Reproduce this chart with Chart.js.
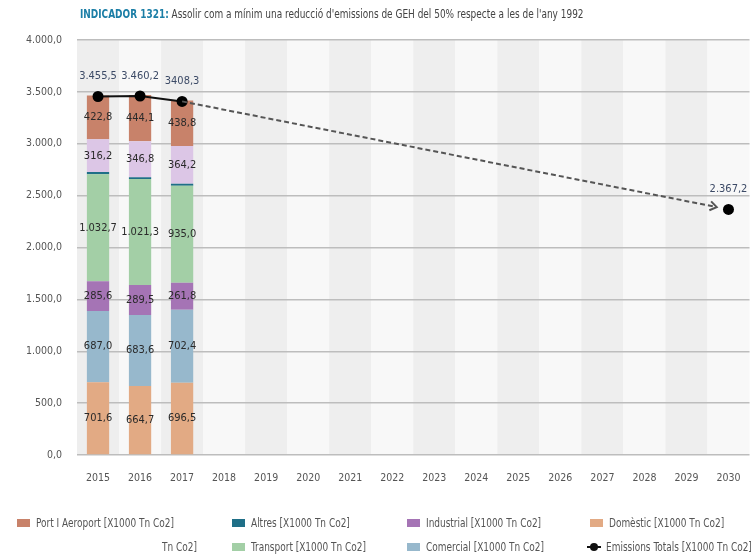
<!DOCTYPE html>
<html>
<head>
<meta charset="utf-8">
<script src="https://cdn.jsdelivr.net/npm/chart.js@4.4.1/dist/chart.umd.min.js"></script>
<style>
  body { margin: 0; background: #fff; }
  #wrap { position: relative; width: 755px; height: 555px; font-family: "Liberation Sans Narrow", "DejaVu Sans Condensed", "Liberation Sans", sans-serif; }
  canvas { position: absolute; left: 0; top: 0; }
  #title { position: absolute; left: 80px; top: 7px; font-size: 12px; color: #444; white-space: nowrap; transform: scaleX(0.83); transform-origin: 0 0; }
  #title b { color: #1b7ea6; }
  .lg { position: absolute; font-size: 12px; color: #555; white-space: nowrap; line-height: 14px; transform: scaleX(0.83); transform-origin: 0 0; }
  .sw { position: absolute; width: 13px; height: 8px; }
  .mk { position: absolute; width: 14px; height: 8px; }
  .mk::before { content: ""; position: absolute; left: 0; right: 0; top: 3px; height: 2px; background: #111; }
  .mk::after { content: ""; position: absolute; left: 3px; top: 0; width: 8px; height: 8px; border-radius: 50%; background: #111; }
</style>
</head>
<body>
<div id="wrap">
  <canvas id="chart" width="755" height="555"></canvas>
  <div id="title"><b>INDICADOR 1321:</b> Assolir com a mínim una reducció d'emissions de GEH del 50% respecte a les de l'any 1992</div>
  <div id="legend"></div>
</div>
<script>
const years = ["2015", "2016", "2017", "2018", "2019", "2020", "2021", "2022", "2023", "2024", "2025", "2026", "2027", "2028", "2029", "2030"];

// stacked series, bottom to top [X1000 Tn Co2]
const domestic = [701.6, 664.7, 696.5];
const comercial = [687.0, 683.6, 702.4];
const industrial = [285.6, 289.5, 261.8];
const transport = [1032.7, 1021.3, 935.0];
const altres = [20.0, 19.0, 18.0];
const lavender = [316.2, 346.8, 364.2];
const portAeroport = [422.8, 444.1, 438.8];

// totals, with the 2030 target
const totals = [3455.5, 3460.2, 3408.3, null, null, null, null, null, null, null, null, null, null, null, null, 2367.2];
const totalLabels = ["3.455,5", "3.460,2", "3408,3", "", "", "", "", "", "", "", "", "", "", "", "", "2.367,2"];

const yTicks = [0, 500, 1000, 1500, 2000, 2500, 3000, 3500, 4000];

const FONT = "'Liberation Sans Narrow', 'DejaVu Sans Condensed', 'Liberation Sans', sans-serif";

function fmt(v) {
    const parts = v.toFixed(1).split(".");
    return parts[0].replace(/\B(?=(\d{3})+(?!\d))/g, ".") + "," + parts[1];
}

const barSeries = [
    { label: "Domèstic [X1000 Tn Co2]", data: domestic, color: "#e2aa84", showValue: true },
    { label: "Comercial [X1000 Tn Co2]", data: comercial, color: "#97b8cc", showValue: true },
    { label: "Industrial [X1000 Tn Co2]", data: industrial, color: "#a574b5", showValue: true },
    { label: "Transport [X1000 Tn Co2]", data: transport, color: "#a3cfa6", showValue: true },
    { label: "Altres [X1000 Tn Co2]", data: altres, color: "#1f6f87", showValue: false },
    { label: "[X1000 Tn Co2]", data: lavender, color: "#dcc6e6", showValue: true },
    { label: "Port I Aeroport [X1000 Tn Co2]", data: portAeroport, color: "#c8826a", showValue: true },
];

const datasets = barSeries.map(s => ({
    type: "bar",
    label: s.label,
    data: s.data,
    backgroundColor: s.color,
    stack: "bars",
    order: 1,
    showValue: s.showValue,
    categoryPercentage: 1,
    barPercentage: 0.53,
}));

datasets.push({
    type: "line",
    label: "Emissions Totals [X1000 Tn Co2]",
    data: totals,
    stack: "line",
    order: 0,
    spanGaps: true,
    borderColor: "#111",
    borderWidth: 2,
    pointRadius: 5.5,
    pointBackgroundColor: "#000",
    pointBorderWidth: 0,
    segment: {
        // the projection part is drawn by the arrow plugin
        borderColor: ctx => ctx.p0DataIndex >= 2 ? "rgba(0,0,0,0)" : "#111",
    },
});

// alternating column shading
const bandPlugin = {
    id: "bands",
    beforeDraw(chart) {
        const { ctx, chartArea, scales } = chart;
        const x = scales.x;
        const step = (chartArea.right - chartArea.left) / years.length;
        ctx.save();
        years.forEach((_, i) => {
            const cx = x.getPixelForValue(i);
            ctx.fillStyle = i % 2 === 0 ? "#eeeeee" : "#f8f8f8";
            ctx.fillRect(cx - step / 2, chartArea.top, step, chartArea.bottom - chartArea.top);
        });
        ctx.restore();
    },
};

// dashed projection with arrow head
const arrowPlugin = {
    id: "arrow",
    afterDatasetsDraw(chart) {
        const idx = chart.data.datasets.length - 1;
        const pts = chart.getDatasetMeta(idx).data;
        const a = pts[2], b = pts[years.length - 1];
        const dx = b.x - a.x, dy = b.y - a.y;
        const len = Math.hypot(dx, dy);
        const ux = dx / len, uy = dy / len;
        const tx = b.x - ux * 12, ty = b.y - uy * 12;
        const ctx = chart.ctx;
        ctx.save();
        ctx.strokeStyle = "#555";
        ctx.lineWidth = 2;
        ctx.setLineDash([5, 3]);
        ctx.beginPath();
        ctx.moveTo(a.x, a.y);
        ctx.lineTo(tx, ty);
        ctx.stroke();
        ctx.setLineDash([]);
        const ang = Math.atan2(uy, ux);
        ctx.beginPath();
        ctx.moveTo(tx - 8 * Math.cos(ang - 0.6), ty - 8 * Math.sin(ang - 0.6));
        ctx.lineTo(tx, ty);
        ctx.lineTo(tx - 8 * Math.cos(ang + 0.6), ty - 8 * Math.sin(ang + 0.6));
        ctx.stroke();
        ctx.restore();
    },
};

// value labels
const labelPlugin = {
    id: "valueLabels",
    afterDraw(chart) {
        const ctx = chart.ctx;
        ctx.save();
        ctx.textAlign = "center";
        ctx.textBaseline = "middle";
        ctx.font = "11px " + FONT;
        chart.data.datasets.forEach((ds, di) => {
            const meta = chart.getDatasetMeta(di);
            if (ds.type === "bar") {
                if (!ds.showValue) return;
                ctx.fillStyle = "#2a2a2a";
                meta.data.forEach((el, i) => {
                    if (ds.data[i] == null) return;
                    ctx.fillText(fmt(ds.data[i]), el.x, (el.y + el.base) / 2);
                });
            } else {
                ctx.fillStyle = "#3c4a66";
                meta.data.forEach((el, i) => {
                    if (!totalLabels[i]) return;
                    ctx.fillText(totalLabels[i], el.x, el.y - 20);
                });
            }
        });
        ctx.restore();
    },
};

new Chart(document.getElementById("chart"), {
    data: { labels: years, datasets: datasets },
    plugins: [bandPlugin, arrowPlugin, labelPlugin],
    options: {
        responsive: false,
        animation: false,
        layout: { padding: { top: 40, right: 0, left: 0, bottom: 0 } },
        plugins: {
            legend: { display: false },
            tooltip: { enabled: false },
        },
        scales: {
            x: {
                stacked: true,
                grid: { display: false },
                border: { display: false },
                ticks: { color: "#555", font: { family: FONT, size: 10.5 }, padding: 9 },
                afterFit: s => {
                    s.height = 100;
                    s.paddingLeft = 0;
                    s.paddingRight = 0;
                },
            },
            y: {
                stacked: true,
                min: 0,
                max: 4000,
                afterBuildTicks: s => { s.ticks = yTicks.map(v => ({ value: v })); },
                grid: { color: "#bdbdbd", lineWidth: 1.5, drawTicks: false },
                border: { display: false },
                ticks: {
                    color: "#555",
                    font: { family: FONT, size: 10.5 },
                    padding: 15,
                    callback: v => fmt(v),
                },
                afterFit: s => {
                    s.width = 77;
                    s.paddingTop = 0;
                    s.paddingBottom = 0;
                },
            },
        },
    },
});

// legend, laid out like the reference
const legendItems = [
    { text: "Port I Aeroport [X1000 Tn Co2]", color: "#c8826a", x: 17, y: 516 },
    { text: "Altres [X1000 Tn Co2]", color: "#1f6f87", x: 232, y: 516 },
    { text: "Industrial [X1000 Tn Co2]", color: "#a574b5", x: 407, y: 516 },
    { text: "Domèstic [X1000 Tn Co2]", color: "#e2aa84", x: 590, y: 516 },
    { text: "Tn Co2]", color: null, x: 162, y: 540 },
    { text: "Transport [X1000 Tn Co2]", color: "#a3cfa6", x: 232, y: 540 },
    { text: "Comercial [X1000 Tn Co2]", color: "#97b8cc", x: 407, y: 540 },
    { text: "Emissions Totals [X1000 Tn Co2]", color: "line", x: 587, y: 540 },
];
const legendEl = document.getElementById("legend");
legendItems.forEach(it => {
    if (it.color === "line") {
        const m = document.createElement("div");
        m.className = "mk";
        m.style.left = it.x + "px";
        m.style.top = (it.y + 3) + "px";
        legendEl.appendChild(m);
    } else if (it.color) {
        const b = document.createElement("div");
        b.className = "sw";
        b.style.left = it.x + "px";
        b.style.top = (it.y + 3) + "px";
        b.style.background = it.color;
        legendEl.appendChild(b);
    }
    const t = document.createElement("div");
    t.className = "lg";
    t.textContent = it.text;
    t.style.left = (it.color ? it.x + 19 : it.x) + "px";
    t.style.top = it.y + "px";
    legendEl.appendChild(t);
});
</script>
</body>
</html>
